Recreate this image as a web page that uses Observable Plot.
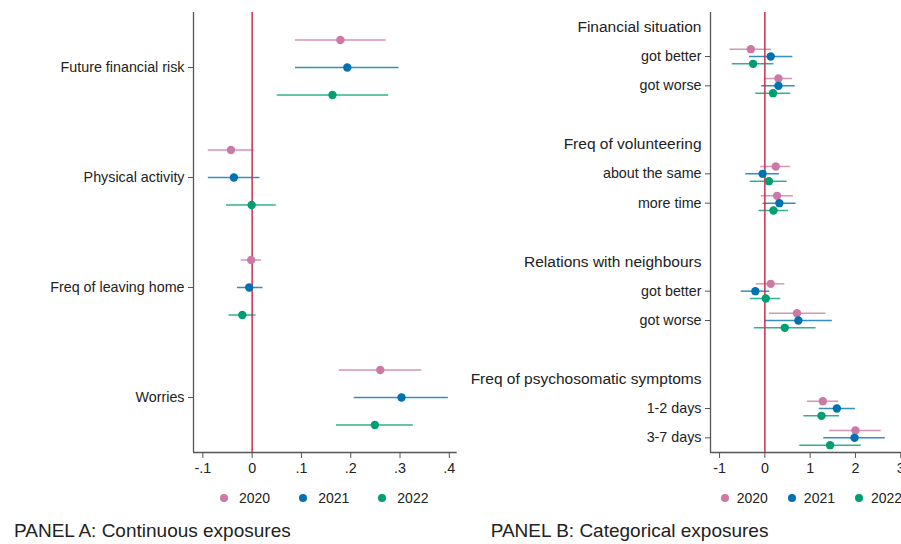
<!DOCTYPE html>
<html><head><meta charset="utf-8">
<script src="https://cdn.jsdelivr.net/npm/d3@7"></script>
<script src="https://cdn.jsdelivr.net/npm/@observablehq/plot@0.6"></script>
<style>
html,body{margin:0;padding:0;background:#fff;}
body{width:901px;height:544px;overflow:hidden;position:relative;font-family:"Liberation Sans",Arial,sans-serif;color:#222;}
.panel{position:absolute;top:0;width:460px;}
.panel svg{max-width:none !important;}
.legend{position:absolute;top:491px;display:flex;font-size:14px;line-height:14px;white-space:nowrap;}
.item{display:flex;align-items:center;}
.sw{width:8px;height:8px;border-radius:50%;}
.title{position:absolute;top:521px;font-size:19px;line-height:19px;white-space:nowrap;}
</style>
</head><body>
<div id="a" class="panel" style="left:0"></div>
<div id="b" class="panel" style="left:460px"></div>
<div id="legA" class="legend" style="left:220px"></div>
<div id="legB" class="legend" style="left:720.7px"></div>
<div class="title" style="left:14px">PANEL A: Continuous exposures</div>
<div class="title" style="left:490.7px">PANEL B: Categorical exposures</div>
<script>
// ---- shared ----
const years = ["2020", "2021", "2022"];
const yearColors = ["#cc79a7", "#0072b2", "#009e73"];
const yearOffsets = [-0.25, 0, 0.25];

// ---- Panel A: continuous exposures ----
const catsA = ["Future financial risk", "Physical activity", "Freq of leaving home", "Worries"];
const estA_2020 = [0.179, -0.043, -0.002, 0.260];
const loA_2020  = [0.088, -0.089, -0.022, 0.177];
const hiA_2020  = [0.272, 0.004, 0.019, 0.344];
const estA_2021 = [0.193, -0.037, -0.006, 0.303];
const loA_2021  = [0.088, -0.089, -0.030, 0.207];
const hiA_2021  = [0.298, 0.016, 0.022, 0.398];
const estA_2022 = [0.163, -0.001, -0.020, 0.249];
const loA_2022  = [0.051, -0.052, -0.047, 0.171];
const hiA_2022  = [0.277, 0.049, 0.008, 0.327];
const ticksA = [-0.1, 0, 0.1, 0.2, 0.3, 0.4];
const tickLabelsA = ["-.1", "0", ".1", ".2", ".3", ".4"];

// ---- Panel B: categorical exposures ----
const groupsB = ["Financial situation", "Freq of volunteering", "Relations with neighbours", "Freq of psychosomatic symptoms"];
const levelsB = [["got better", "got worse"], ["about the same", "more time"], ["got better", "got worse"], ["1-2 days", "3-7 days"]];
const estB_2020 = [-0.31, 0.30, 0.24, 0.27, 0.13, 0.71, 1.28, 2.00];
const loB_2020  = [-0.77, 0.00, -0.09, -0.08, -0.19, 0.10, 0.94, 1.43];
const hiB_2020  = [0.15, 0.61, 0.57, 0.63, 0.44, 1.35, 1.63, 2.57];
const estB_2021 = [0.13, 0.30, -0.05, 0.32, -0.21, 0.74, 1.59, 1.98];
const loB_2021  = [-0.34, -0.07, -0.42, -0.04, -0.52, 0.01, 1.20, 1.30];
const hiB_2021  = [0.62, 0.67, 0.32, 0.69, 0.11, 1.49, 2.00, 2.66];
const estB_2022 = [-0.26, 0.18, 0.09, 0.19, 0.02, 0.44, 1.25, 1.44];
const loB_2022  = [-0.72, -0.20, -0.32, -0.13, -0.32, -0.23, 0.86, 0.77];
const hiB_2022  = [0.20, 0.57, 0.49, 0.52, 0.35, 1.13, 1.65, 2.13];
const ticksB = [-1, 0, 1, 2, 3];
const tickLabelsB = ["-1", "0", "1", "2", "3"];

// ---- build tables ----
const estA = [estA_2020, estA_2021, estA_2022], loA = [loA_2020, loA_2021, loA_2022], hiA = [hiA_2020, hiA_2021, hiA_2022];
const rowsA = years.flatMap((yr, k) => catsA.map((c, i) => ({year: yr, pos: i + 1 + yearOffsets[k], est: estA[k][i], lo: loA[k][i], hi: hiA[k][i]})));
const posA = catsA.map((c, i) => i + 1);

const estB = [estB_2020, estB_2021, estB_2022], loB = [loB_2020, loB_2021, loB_2022], hiB = [hiB_2020, hiB_2021, hiB_2022];
const labelsB = levelsB.flat();
const posB = levelsB.flatMap((lv, g) => lv.map((l, j) => 4 * g + 2 + j));
const headersB = groupsB.map((name, g) => ({name, pos: 4 * g + 1}));
const rowsB = years.flatMap((yr, k) => labelsB.map((l, i) => ({year: yr, pos: posB[i] + yearOffsets[k], est: estB[k][i], lo: loB[k][i], hi: hiB[k][i]})));

const font = "'Liberation Sans', Arial, sans-serif";
const axisColor = "#555";
const zeroColor = "#c8304b";

function panel({rows, xDomain, yDomain, xTicks, xLabels, yTicks, yLabels, headers, marginLeft, marginRight}) {
  const marks = [
    Plot.ruleX([xDomain[0]], {stroke: axisColor, strokeWidth: 1.3}),
    Plot.ruleY([yDomain[1]], {stroke: axisColor, strokeWidth: 1.3}),
    Plot.axisX({ticks: xTicks, tickFormat: d => xLabels[xTicks.indexOf(d)], tickSize: 6, tickPadding: 4, stroke: axisColor, fill: "#222", fontSize: 14.3, label: null}),
    Plot.axisY({ticks: yTicks, tickFormat: d => yLabels[yTicks.indexOf(d)], tickSize: 5, tickPadding: 4, stroke: axisColor, fill: "#222", fontSize: 14.3, label: null}),
    Plot.ruleY(rows, {y: "pos", x1: "lo", x2: "hi", stroke: "year", strokeWidth: 1.5, strokeOpacity: 0.8}),
    Plot.ruleX([0], {stroke: zeroColor, strokeWidth: 1.5}),
    Plot.dot(rows, {x: "est", y: "pos", r: 4.2, fill: "year"})
  ];
  if (headers) marks.push(Plot.text(headers, {y: "pos", text: "name", frameAnchor: "left", textAnchor: "end", dx: -9, fontSize: 15.5, fill: "#222"}));
  return Plot.plot({
    width: 460, height: 480,
    marginLeft, marginRight, marginTop: 12, marginBottom: 28,
    x: {domain: xDomain},
    y: {domain: yDomain, reverse: true},
    color: {domain: years, range: yearColors},
    style: {fontFamily: font, background: "transparent", overflow: "visible", maxWidth: "none"},
    marks
  });
}

document.getElementById("a").append(panel({
  rows: rowsA, xDomain: [-0.119, 0.416], yDomain: [0.5, 4.5],
  xTicks: ticksA, xLabels: tickLabelsA, yTicks: posA, yLabels: catsA,
  marginLeft: 193, marginRight: 3.3
}));
document.getElementById("b").append(panel({
  rows: rowsB, xDomain: [-1.2, 3.2], yDomain: [0.5, 15.5],
  xTicks: ticksB, xLabels: tickLabelsB, yTicks: posB, yLabels: labelsB, headers: headersB,
  marginLeft: 250, marginRight: 10.7
}));

function legend(id, swGap, itemGap) {
  const el = document.getElementById(id);
  years.forEach((yr, k) => {
    const it = document.createElement("div");
    it.className = "item";
    if (k < years.length - 1) it.style.marginRight = itemGap + "px";
    const sw = document.createElement("div");
    sw.className = "sw";
    sw.style.background = yearColors[k];
    sw.style.marginRight = swGap + "px";
    const t = document.createElement("span");
    t.textContent = yr;
    it.append(sw, t);
    el.append(it);
  });
}
legend("legA", 11, 29);
legend("legB", 8, 20);
</script>
</body></html>
